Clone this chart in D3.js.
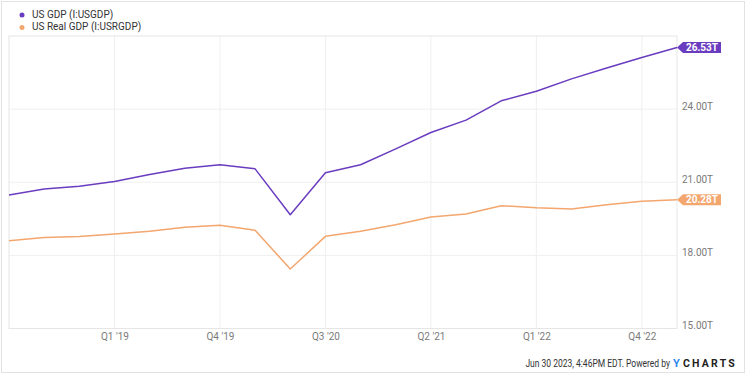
<!DOCTYPE html>
<html>
<head>
<meta charset="utf-8">
<script src="https://cdn.jsdelivr.net/npm/d3@7"></script>
<style>
    body { margin: 0; background: #fff; }
    svg text { font-family: Roboto, "Liberation Sans", sans-serif; }
</style>
</head>
<body>
<div id="chart"></div>
<script>
// quarters shown (Q2 2018 .. Q1 2023)
const quarters = ["Q2 '18", "Q3 '18", "Q4 '18", "Q1 '19", "Q2 '19", "Q3 '19", "Q4 '19",
    "Q1 '20", "Q2 '20", "Q3 '20", "Q4 '20", "Q1 '21", "Q2 '21", "Q3 '21", "Q4 '21",
    "Q1 '22", "Q2 '22", "Q3 '22", "Q4 '22", "Q1 '23"];
// US GDP, trillions
const usGdp = [20.48, 20.72, 20.84, 21.03, 21.32, 21.57, 21.72, 21.55, 19.67, 21.39,
    21.72, 22.37, 23.04, 23.55, 24.34, 24.73, 25.24, 25.69, 26.12, 26.53];
// US Real GDP, trillions
const usRealGdp = [18.60, 18.73, 18.77, 18.88, 18.99, 19.15, 19.24, 19.03, 17.44, 18.78,
    18.99, 19.26, 19.57, 19.70, 20.04, 19.95, 19.90, 20.08, 20.22, 20.28];
const seriesNames = ["US GDP (I:USGDP)", "US Real GDP (I:USRGDP)"];
const xTickLabels = ["Q1 '19", "Q4 '19", "Q3 '20", "Q2 '21", "Q1 '22", "Q4 '22"];
const yTicks = [15, 18, 21, 24];
const yDomain = [15, 27];

var width = 750;
var height = 375;
const colors = ["#6a3cbf", "#f3a66e"];

const svg = d3.select("#chart")
    .append("svg")
    .attr("width", width)
    .attr("height", height);

// outer frame
svg.append("rect")
    .attr("x", 1.5).attr("y", 1.5)
    .attr("width", 743).attr("height", 371)
    .attr("fill", "none")
    .attr("stroke", "#e2e2e2");

const x = d3.scalePoint()
    .domain(quarters)
    .range([9, 677]);

const y = d3.scaleLinear()
    .domain(yDomain)
    .range([328.5, 36]);

// grid lines
svg.append("g")
    .selectAll("line")
    .data(xTickLabels)
    .enter()
    .append("line")
    .attr("x1", d => x(d)).attr("x2", d => x(d))
    .attr("y1", y(yDomain[1])).attr("y2", y(yDomain[0]))
    .attr("stroke", "#efefef");

svg.append("g")
    .selectAll("line")
    .data(yTicks.slice(1))
    .enter()
    .append("line")
    .attr("x1", x.range()[0]).attr("x2", x.range()[1])
    .attr("y1", d => y(d)).attr("y2", d => y(d))
    .attr("stroke", "#efefef");

// plot border
svg.append("rect")
    .attr("x", x.range()[0]).attr("y", y(yDomain[1]))
    .attr("width", x.range()[1] - x.range()[0])
    .attr("height", y(yDomain[0]) - y(yDomain[1]))
    .attr("fill", "none")
    .attr("stroke", "#e6e6e6");

// y axis on the right
const yAxis = d3.axisRight(y)
    .tickValues(yTicks)
    .tickSize(0)
    .tickPadding(5)
    .tickFormat(d => d.toFixed(2) + "T");
const gy = svg.append("g")
    .attr("transform", `translate(${x.range()[1]},-3)`)
    .call(yAxis);
gy.select(".domain").remove();
gy.selectAll("text").attr("fill", "#7a7a7a").style("font-size", "10px");

// x axis
const xAxis = d3.axisBottom(x)
    .tickValues(xTickLabels)
    .tickSize(0)
    .tickPadding(4);
const gx = svg.append("g")
    .attr("transform", `translate(0,${y(yDomain[0])})`)
    .call(xAxis);
gx.select(".domain").remove();
gx.selectAll("text").attr("fill", "#7a7a7a").style("font-size", "10px");

// lines
const line = d3.line()
    .x((d, i) => x(quarters[i]))
    .y(d => y(d));

[usGdp, usRealGdp].forEach(function (vals, k) {
    svg.append("path")
        .datum(vals)
        .attr("d", line)
        .attr("fill", "none")
        .attr("stroke", colors[k])
        .attr("stroke-width", 1.5)
        .attr("stroke-linejoin", "round");

    // last value tag
    const last = vals[vals.length - 1];
    const tx = x(quarters[quarters.length - 1]);
    const ty = y(last);
    svg.append("path")
        .attr("d", `M${tx},${ty} L${tx + 6},${ty - 5.5} L${tx + 44},${ty - 5.5} L${tx + 44},${ty + 5.5} L${tx + 6},${ty + 5.5} Z`)
        .attr("fill", colors[k]);
    svg.append("text")
        .text(last.toFixed(2) + "T")
        .attr("x", tx + 25)
        .attr("y", ty + 0.5)
        .attr("text-anchor", "middle")
        .attr("dominant-baseline", "middle")
        .attr("fill", "#fff")
        .style("font-size", "10px")
        .style("font-weight", "bold");
});

// legend
const legend = svg.append("g");
seriesNames.forEach(function (name, k) {
    legend.append("circle")
        .attr("cx", 22).attr("cy", 15 + k * 12.5)
        .attr("r", 2.5)
        .attr("fill", colors[k]);
    legend.append("text")
        .text(name)
        .attr("x", 32).attr("y", 15 + k * 12.5)
        .attr("dominant-baseline", "middle")
        .attr("fill", "#333")
        .style("font-size", "10px");
});

// footer (squeezed horizontally like the narrow original font)
svg.append("text")
    .text("Jun 30 2023, 4:46PM EDT. Powered by")
    .attr("transform", "translate(670,364) scale(0.85,1)")
    .attr("text-anchor", "end")
    .attr("dominant-baseline", "middle")
    .attr("fill", "#333")
    .style("font-size", "10px");
svg.append("text")
    .text("Y")
    .attr("x", 673)
    .attr("y", 364)
    .attr("dominant-baseline", "middle")
    .attr("fill", "#2e86f0")
    .style("font-weight", "bold")
    .style("font-size", "11px");
svg.append("text")
    .text("CHARTS")
    .attr("x", 683)
    .attr("y", 364)
    .attr("dominant-baseline", "middle")
    .attr("fill", "#222")
    .style("font-weight", "bold")
    .style("font-size", "10.5px")
    .style("letter-spacing", "2.2px");
</script>
</body>
</html>
